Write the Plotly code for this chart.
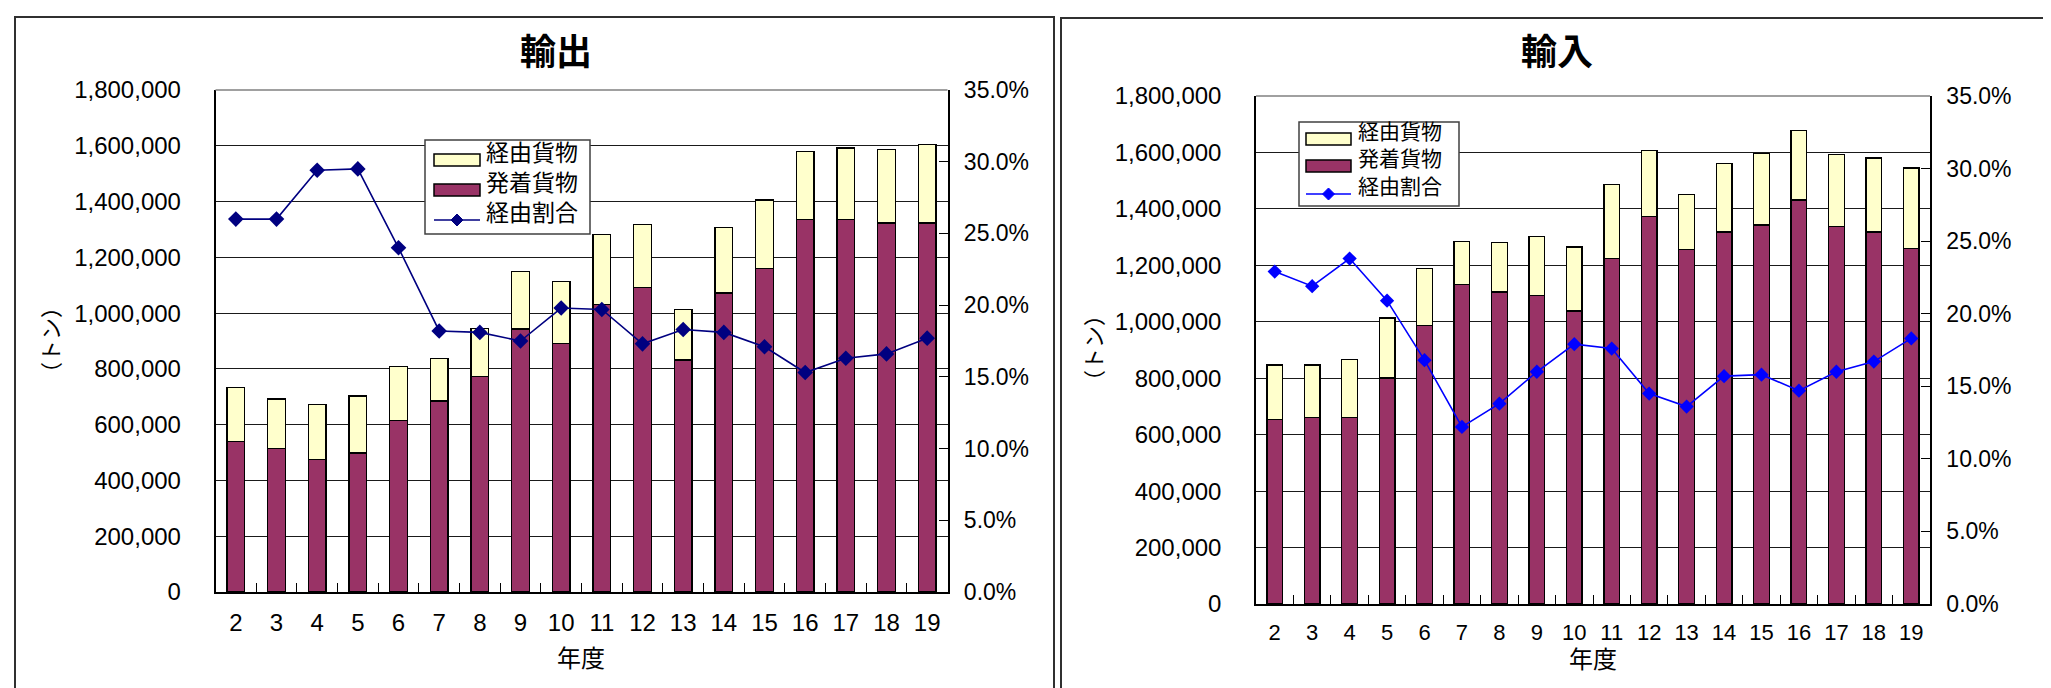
import plotly.graph_objects as go

W, H = 2051, 688

years = ["2", "3", "4", "5", "6", "7", "8", "9", "10", "11", "12", "13", "14", "15", "16", "17", "18", "19"]

# 輸出 (export)
export_hacchaku = [539000, 515600, 474800, 498300, 614700, 685400, 773400, 943200, 889800,
                   1031300, 1091000, 831600, 1072100, 1160200, 1336200, 1336200, 1323600, 1323600]
export_keiyu = [193600, 176100, 198000, 204400, 193300, 152500, 171400, 206000, 224800,
                251500, 228000, 180800, 234300, 245200, 242100, 256300, 264200, 281400]
export_ratio = [26.0, 26.0, 29.4, 29.5, 24.0, 18.2, 18.1, 17.5, 19.8,
                19.7, 17.3, 18.3, 18.1, 17.1, 15.3, 16.3, 16.6, 17.7]

# 輸入 (import)
import_hacchaku = [654400, 660600, 660600, 800500, 987000, 1131600, 1105200, 1094300, 1038300,
                   1224900, 1374100, 1256000, 1318100, 1343000, 1431600, 1338300, 1318100, 1260600]
import_keiyu = [192800, 186600, 206800, 213000, 200600, 153900, 175600, 206700, 227000,
                262700, 231600, 195800, 242500, 253400, 247200, 253400, 262700, 284500]
import_ratio = [22.9, 21.9, 23.8, 20.9, 16.8, 12.2, 13.8, 16.0, 17.9,
                17.6, 14.5, 13.6, 15.7, 15.8, 14.7, 16.0, 16.7, 18.3]

LEGEND_LABELS = ["経由貨物", "発着貨物", "経由割合"]

DARK = "#993366"
LIGHT = "#FFFFCC"
NUM_FONT = "Liberation Sans, Arial, sans-serif"
JP_FONT = "Noto Sans CJK JP, sans-serif"


def px_x(x):
    return x / W


def px_y(y):
    return 1 - y / H


# pixel layout of the two panels
PANELS = [
    dict(title="輸出", hacchaku=export_hacchaku, keiyu=export_keiyu, ratio=export_ratio,
         line_color="#000080", plot=(207.5, 82, 939.5, 584), title_xy=(548, 52),
         ytitle_xy=(47, 332), xtitle_xy=(573, 657), box=(7, 9, 1046, 720),
         legend=dict(box=(417, 132, 582, 226), rows=(152, 182, 212), sym=(426, 472), text_x=476),
         marker=12, bar_w=0.43, xfont=24, lfont=23),
    dict(title="輸入", hacchaku=import_hacchaku, keiyu=import_keiyu, ratio=import_ratio,
         line_color="#0000FF", plot=(1248, 88, 1922, 596), title_xy=(1549, 52),
         ytitle_xy=(1090, 340), xtitle_xy=(1585, 658), box=(1053, 10, 2080, 720),
         legend=dict(box=(1291, 114, 1451, 198), rows=(131, 158, 186), sym=(1298, 1343), text_x=1348),
         marker=11, bar_w=0.42, xfont=22, lfont=21),
]

fig = go.Figure()
shapes = []
annotations = []


def note(text, x, y, size, xanchor="center", angle=0):
    # CJK glyphs sit low in the annotation box; nudge them back to the visual centre
    off = 4 + 0.2 * size
    if angle:
        x = x - off * 0.7
    else:
        y = y - off
    annotations.append(dict(text=text, xref="paper", yref="paper", x=px_x(x), y=px_y(y),
                            xanchor=xanchor, yanchor="middle", textangle=angle, showarrow=False,
                            align="left", font=dict(family=JP_FONT, size=size, color="black")))


for i, p in enumerate(PANELS):
    xa = "x" if i == 0 else "x2"
    ya = "y" if i == 0 else "y3"
    ya2 = "y2" if i == 0 else "y4"
    fig.add_trace(go.Bar(x=years, y=p["hacchaku"], name=LEGEND_LABELS[1], marker_color=DARK,
                         marker_line=dict(color="black", width=1.3), width=p["bar_w"],
                         xaxis=xa, yaxis=ya, showlegend=False))
    fig.add_trace(go.Bar(x=years, y=p["keiyu"], name=LEGEND_LABELS[0], marker_color=LIGHT,
                         marker_line=dict(color="black", width=1.3), width=p["bar_w"],
                         xaxis=xa, yaxis=ya, showlegend=False))
    fig.add_trace(go.Scatter(x=years, y=p["ratio"], name=LEGEND_LABELS[2], mode="lines+markers",
                             line=dict(color=p["line_color"], width=1.6),
                             marker=dict(symbol="diamond", size=p["marker"], color=p["line_color"]),
                             xaxis=xa, yaxis=ya2, showlegend=False))

    x0, y0, x1, y1 = p["plot"]
    xdom = [px_x(x0), px_x(x1)]
    ydom = [px_y(y1), px_y(y0)]
    xkey = "xaxis" if i == 0 else "xaxis2"
    ykey = "yaxis" if i == 0 else "yaxis3"
    y2key = "yaxis2" if i == 0 else "yaxis4"
    fig.update_layout(**{
        xkey: dict(domain=xdom, anchor=ya, type="category", range=[-0.5, len(years) - 0.5],
                   showline=True, linecolor="black", automargin=False,
                   linewidth=1.5, ticks="inside", tickson="boundaries", ticklen=9,
                   tickcolor="black", tickwidth=1, showgrid=False, ticklabelstandoff=8,
                   tickangle=0, tickfont=dict(family=NUM_FONT, size=p["xfont"], color="black")),
        ykey: dict(domain=ydom, anchor=xa, range=[0, 1800000], dtick=200000, tickformat=",d",
                   showline=True, linecolor="black", linewidth=1.5, showgrid=True, automargin=False,
                   gridcolor="#1a1a1a", gridwidth=1, ticks="", ticklabelstandoff=28,
                   zeroline=False, tickfont=dict(family=NUM_FONT, size=24, color="black")),
        y2key: dict(overlaying=ya, side="right", anchor=xa, range=[0, 35], dtick=5,
                    tickformat=".1f", ticksuffix="%", showline=True, linecolor="black",
                    linewidth=1.5, showgrid=False, ticks="inside", ticklen=9, tickcolor="black",
                    ticklabelstandoff=10, zeroline=False, automargin=False,
                    tickfont=dict(family=NUM_FONT, size=23, color="black")),
    })

    # top edge of plot area (gray)
    shapes.append(dict(type="line", xref="paper", yref="paper", x0=xdom[0], x1=xdom[1],
                       y0=ydom[1], y1=ydom[1], line=dict(color="#808080", width=1.5)))
    # chart area border
    bx0, by0, bx1, by1 = p["box"]
    shapes.append(dict(type="rect", xref="paper", yref="paper", x0=px_x(bx0), x1=px_x(bx1),
                       y0=px_y(by1), y1=px_y(by0), line=dict(color="#303030", width=2)))

    # titles
    note("<b>" + p["title"] + "</b>", p["title_xy"][0], p["title_xy"][1], 36)
    note("（トン）", p["ytitle_xy"][0], p["ytitle_xy"][1], 22, angle=-90)
    note("年度", p["xtitle_xy"][0], p["xtitle_xy"][1], 24)

    # legend box
    lg = p["legend"]
    lx0, ly0, lx1, ly1 = lg["box"]
    shapes.append(dict(type="rect", xref="paper", yref="paper", layer="above",
                       x0=px_x(lx0), x1=px_x(lx1), y0=px_y(ly1), y1=px_y(ly0),
                       fillcolor="white", line=dict(color="#404040", width=1.5)))
    sx0, sx1 = lg["sym"]
    for row, fill in zip(lg["rows"][:2], [LIGHT, DARK]):
        shapes.append(dict(type="rect", xref="paper", yref="paper", layer="above",
                           x0=px_x(sx0), x1=px_x(sx1), y0=px_y(row + 6), y1=px_y(row - 6),
                           fillcolor=fill, line=dict(color="black", width=1.5)))
    row = lg["rows"][2]
    shapes.append(dict(type="line", xref="paper", yref="paper", layer="above",
                       x0=px_x(sx0), x1=px_x(sx1), y0=px_y(row), y1=px_y(row),
                       line=dict(color=p["line_color"], width=1.6)))
    cx = (sx0 + sx1) / 2
    d = 6
    path = "M {a},{b} L {c},{e} L {a},{f} L {g},{e} Z".format(
        a=px_x(cx), b=px_y(row - d), c=px_x(cx + d), e=px_y(row), f=px_y(row + d), g=px_x(cx - d))
    shapes.append(dict(type="path", xref="paper", yref="paper", layer="above", path=path,
                       fillcolor=p["line_color"], line=dict(color=p["line_color"], width=1)))
    note("<br>".join(LEGEND_LABELS), lg["text_x"], lg["rows"][1], p["lfont"], xanchor="left")

fig.update_layout(
    width=W, height=H, autosize=False,
    margin=dict(l=0, r=0, t=0, b=0, autoexpand=False),
    barmode="stack",
    paper_bgcolor="white", plot_bgcolor="white",
    showlegend=False,
    shapes=shapes, annotations=annotations,
)

fig.write_html("out.html")
